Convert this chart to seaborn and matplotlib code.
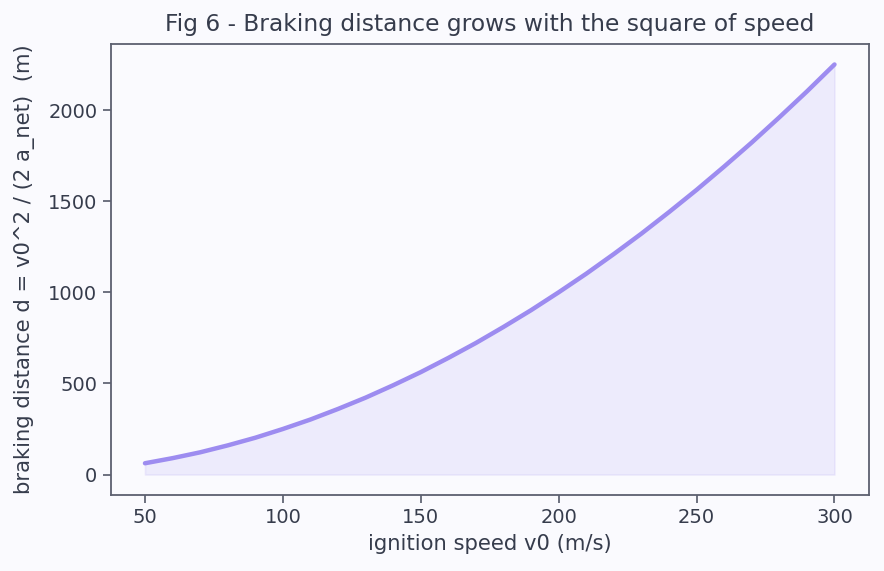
import matplotlib
matplotlib.use("Agg")
import matplotlib.pyplot as plt
import pandas as pd
import seaborn as sns

# ignition speed (m/s) and braking distance (m)
speed = [50, 60, 70, 80, 90, 100, 110, 120, 130, 140, 150, 160, 170,
         180, 190, 200, 210, 220, 230, 240, 250, 260, 270, 280, 290, 300]
distance = [62, 90, 122, 160, 202, 250, 302, 360, 422, 490, 562, 640, 722,
            810, 902, 1000, 1102, 1210, 1322, 1440, 1562, 1690, 1822, 1960, 2102, 2250]

title = "Fig 6 - Braking distance grows with the square of speed"
xlabel = "ignition speed v0 (m/s)"
ylabel = "braking distance d = v0^2 / (2 a_net)  (m)"

bg = "#fafafe"
text_col = "#363c4c"
spine_col = "#5c6070"
line_col = "#9d8cf0"

sns.set_theme(style="ticks", rc={
    "figure.facecolor": bg,
    "axes.facecolor": bg,
    "axes.edgecolor": spine_col,
    "axes.labelcolor": text_col,
    "xtick.color": spine_col,
    "ytick.color": spine_col,
    "xtick.labelcolor": text_col,
    "ytick.labelcolor": text_col,
    "text.color": text_col,
})
plt.rcParams["font.family"] = ["DejaVu Sans"]

df = pd.DataFrame({"speed": speed, "distance": distance})

fig, ax = plt.subplots(figsize=(8.84, 5.71), dpi=100)
ax.fill_between(df["speed"], 0, df["distance"], color=line_col, alpha=0.13, linewidth=1.2,
                edgecolor=(0.62, 0.55, 0.94, 0.12))
sns.lineplot(data=df, x="speed", y="distance", ax=ax, color=line_col, linewidth=3.2)

ax.set_xticks([50, 100, 150, 200, 250, 300])
ax.set_yticks([0, 500, 1000, 1500, 2000])
ax.tick_params(labelsize=14, length=6)
ax.set_xlabel(xlabel, fontsize=15.2, labelpad=5)
ax.set_ylabel(ylabel, fontsize=15.2, labelpad=9)
ax.set_title(title, fontsize=16.8, color=text_col, pad=9)
for s in ax.spines.values():
    s.set_visible(True)
    s.set_color(spine_col)
    s.set_linewidth(1.3)

fig.subplots_adjust(left=0.125, right=0.983, top=0.923, bottom=0.133)
fig.savefig("out.png", dpi=100, facecolor=bg)
